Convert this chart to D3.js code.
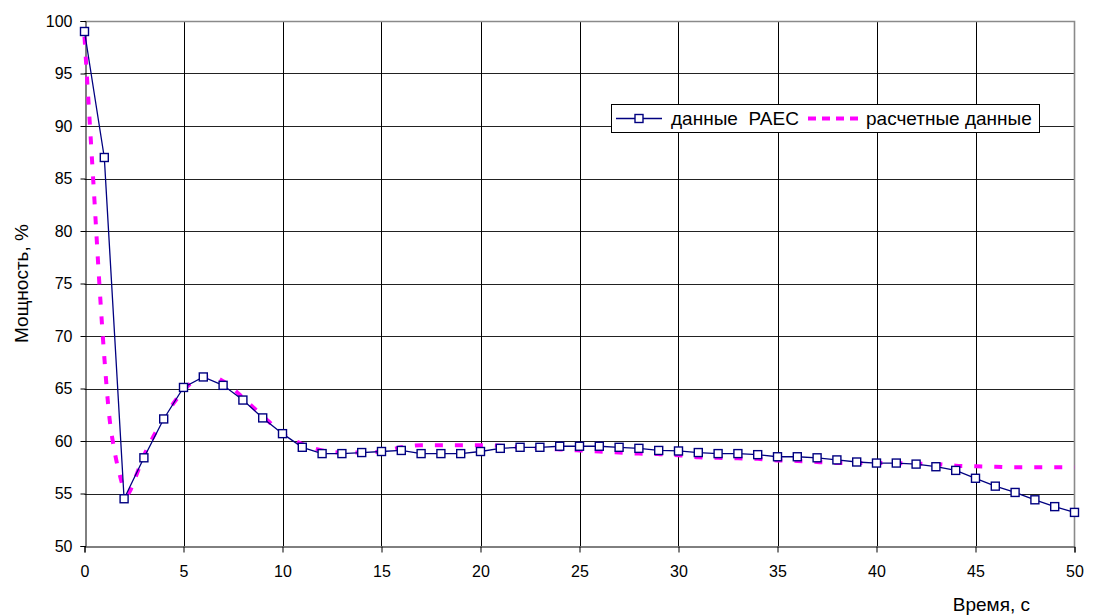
<!DOCTYPE html>
<html>
<head>
<meta charset="utf-8">
<script src="https://cdn.jsdelivr.net/npm/d3@7"></script>
<style>
  body { margin: 0; background: #fff; }
  text { font-family: "Liberation Sans", Arial, sans-serif; fill: #000; }
</style>
</head>
<body>
<div id="chart"></div>
<script>
// time axis (s) for the measured PAEC data
const paecTime = [0, 1, 2, 3, 4, 5, 6, 7, 8, 9, 10, 11, 12, 13, 14, 15, 16, 17, 18, 19, 20,
  21, 22, 23, 24, 25, 26, 27, 28, 29, 30, 31, 32, 33, 34, 35, 36, 37, 38, 39, 40,
  41, 42, 43, 44, 45, 46, 47, 48, 49, 50];
const paecPower = [99.0, 87.0, 54.5, 58.4, 62.1, 65.1, 66.1, 65.3, 63.9, 62.2, 60.7,
  59.4, 58.8, 58.8, 58.9, 59.0, 59.1, 58.8, 58.8, 58.8, 59.0,
  59.3, 59.4, 59.4, 59.5, 59.5, 59.5, 59.4, 59.3, 59.1, 59.05,
  58.9, 58.8, 58.8, 58.7, 58.5, 58.5, 58.4, 58.2, 58.0, 57.9,
  57.9, 57.8, 57.55, 57.2, 56.45, 55.7, 55.1, 54.4, 53.75, 53.2];

// calculated curve
const calcTime = [0, 0.25, 0.5, 0.75, 1, 1.25, 1.5, 1.75, 2, 2.2, 2.5, 3, 3.5, 4, 4.5, 5, 5.5,
  6, 6.5, 7, 7.5, 8, 9, 10, 11, 12, 13, 14, 15, 16, 17, 18, 19, 20, 21, 22, 23, 24, 25,
  26, 27, 28, 29, 30, 31, 32, 33, 34, 35, 36, 37, 38, 39, 40, 41, 42, 43, 44, 45, 46,
  47, 48, 49, 50];
const calcPower = [98.5, 90.8, 83.0, 75.0, 68.0, 62.4, 59.2, 57.0, 55.4, 55.0, 56.2, 58.6,
  60.5, 62.1, 63.6, 64.8, 65.7, 66.1, 66.1, 65.7, 65.0, 64.1, 62.4, 60.7, 59.7, 59.1,
  58.9, 58.9, 59.0, 59.4, 59.6, 59.6, 59.6, 59.6, 59.55, 59.4, 59.3, 59.2, 59.1,
  59.0, 58.9, 58.8, 58.75, 58.65, 58.45, 58.4, 58.35, 58.3, 58.15, 58.1, 58.0, 57.9,
  57.9, 57.9, 57.9, 57.85, 57.8, 57.65, 57.6, 57.55, 57.5, 57.5, 57.5, 57.5];

const xTicks = [0, 5, 10, 15, 20, 25, 30, 35, 40, 45, 50];
const yTicks = [50, 55, 60, 65, 70, 75, 80, 85, 90, 95, 100];
const seriesNames = ["данные  РАЕС", "расчетные данные"];

const W = 1093, H = 615;
const plot = { left: 84.5, right: 1074.5, top: 21, bottom: 546 };

const svg = d3.select("#chart").append("svg")
  .attr("width", W).attr("height", H);

const x = d3.scaleLinear().domain([0, 50]).range([plot.left, plot.right]);
const y = d3.scaleLinear().domain([50, 100]).range([plot.bottom, plot.top]);

// horizontal grid
svg.append("g").selectAll("line").data(yTicks.slice(1)).join("line")
  .attr("x1", plot.left).attr("x2", plot.right)
  .attr("y1", d => Math.round(y(d)) + 0.5).attr("y2", d => Math.round(y(d)) + 0.5)
  .attr("stroke", "#222").attr("stroke-width", 1.2);

// vertical grid
svg.append("g").selectAll("line").data(xTicks.slice(1, -1)).join("line")
  .attr("x1", d => Math.round(x(d)) + 0.5).attr("x2", d => Math.round(x(d)) + 0.5)
  .attr("y1", plot.top).attr("y2", plot.bottom)
  .attr("stroke", "#000").attr("stroke-width", 1);

// plot border (top / right grey)
svg.append("path")
  .attr("d", `M${plot.left},${plot.top + 0.5}H${plot.right}V${plot.bottom}`)
  .attr("fill", "none").attr("stroke", "#8a8a8a").attr("stroke-width", 1.6);

// axes
const xAxis = svg.append("g")
  .attr("transform", `translate(0,${Math.round(plot.bottom) + 0.5})`)
  .call(d3.axisBottom(x).tickValues(xTicks).tickSize(6).tickPadding(13));
const yAxis = svg.append("g")
  .attr("transform", `translate(${Math.round(plot.left) + 0.5},0)`)
  .call(d3.axisLeft(y).tickValues(yTicks).tickSize(5).tickPadding(8));
[xAxis, yAxis].forEach(g => {
  g.select(".domain").attr("stroke", "#000");
  g.selectAll(".tick line").attr("stroke", "#000");
  g.selectAll(".tick text").attr("font-size", 16).attr("font-family", "Liberation Sans, Arial, sans-serif");
});

// axis titles
svg.append("text").attr("x", 1030).attr("y", 611)
  .attr("text-anchor", "end").attr("font-size", 19).text("Время, с");
svg.append("text")
  .attr("transform", `translate(28,${(plot.top + plot.bottom) / 2}) rotate(-90)`)
  .attr("text-anchor", "middle").attr("font-size", 19).text("Мощность, %");

// calculated dashed curve
const calcData = calcTime.map((t, i) => [t, calcPower[i]]);
svg.append("path").datum(calcData)
  .attr("fill", "none").attr("stroke", "#ff00ff").attr("stroke-width", 4)
  .attr("stroke-dasharray", "8,12")
  .attr("d", d3.line().x(d => x(d[0])).y(d => y(d[1])).curve(d3.curveMonotoneX));

// measured data line + markers
const paecData = paecTime.map((t, i) => [t, paecPower[i]]);
svg.append("path").datum(paecData)
  .attr("fill", "none").attr("stroke", "#000080").attr("stroke-width", 1.3)
  .attr("d", d3.line().x(d => x(d[0])).y(d => y(d[1])));
svg.append("g").selectAll("rect").data(paecData).join("rect")
  .attr("x", d => x(d[0]) - 4).attr("y", d => y(d[1]) - 4)
  .attr("width", 8).attr("height", 8)
  .attr("fill", "#fff").attr("stroke", "#000080").attr("stroke-width", 1.4);

// legend
const lg = svg.append("g");
lg.append("rect").attr("x", 611.5).attr("y", 104.5).attr("width", 428).attr("height", 28)
  .attr("fill", "#fff").attr("stroke", "#000").attr("stroke-width", 1);
lg.append("line").attr("x1", 616).attr("x2", 662).attr("y1", 118.5).attr("y2", 118.5)
  .attr("stroke", "#000080").attr("stroke-width", 1.3);
lg.append("rect").attr("x", 635).attr("y", 114.5).attr("width", 8).attr("height", 8)
  .attr("fill", "#fff").attr("stroke", "#000080").attr("stroke-width", 1.4);
lg.append("text").attr("x", 671).attr("y", 125).attr("font-size", 19)
  .style("white-space", "pre").text(seriesNames[0]);
lg.append("line").attr("x1", 808).attr("x2", 862).attr("y1", 118.5).attr("y2", 118.5)
  .attr("stroke", "#ff00ff").attr("stroke-width", 4).attr("stroke-dasharray", "8,6");
lg.append("text").attr("x", 866).attr("y", 125).attr("font-size", 19)
  .text(seriesNames[1]);
</script>
</body>
</html>
